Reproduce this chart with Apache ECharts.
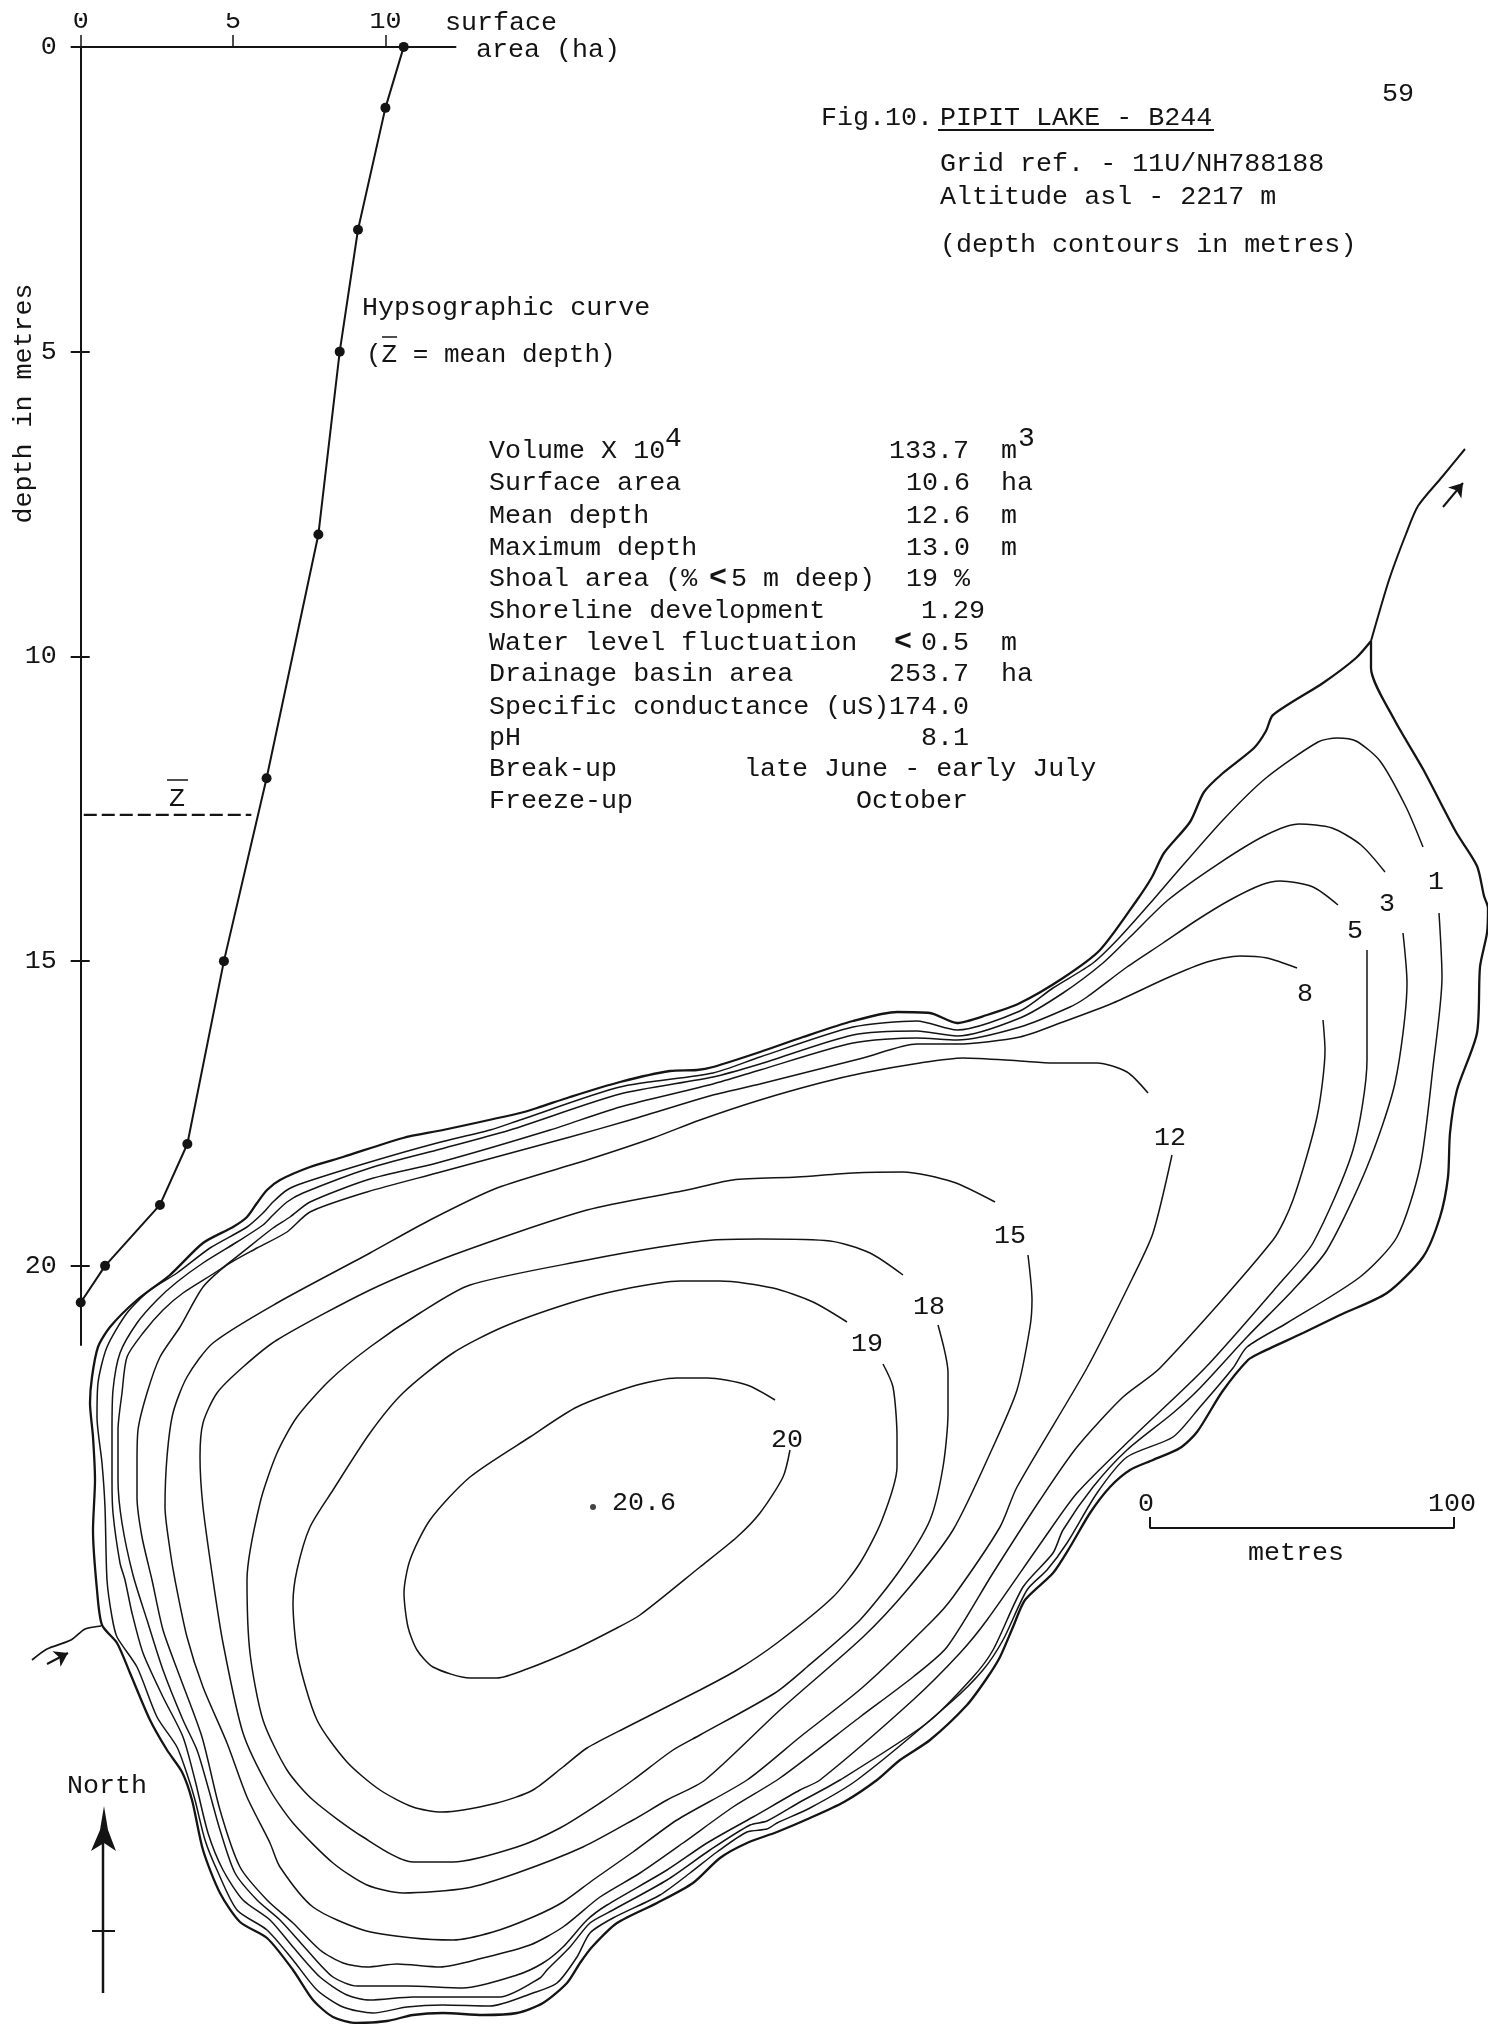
<!DOCTYPE html>
<html><head><meta charset="utf-8">
<style>html,body{margin:0;padding:0;background:#fff}#c{width:1488px;height:2024px}</style>
<script src="https://cdn.jsdelivr.net/npm/echarts@6/dist/echarts.min.js"></script>
</head><body><div id="c"></div>
<script>
// Hypsographic curve (surface area in ha against depth in m)
const areaTicks = [0, 5, 10];
const depthTicks = [0, 5, 10, 15, 20];
const hypsoArea = [10.6, 10.0, 9.1, 8.5, 7.8, 6.1, 4.7, 3.5, 2.6, 0.8, 0];
const hypsoDepth = [0, 1, 3, 5, 8, 12, 15, 18, 19, 20, 20.6];
const meanDepth = 12.6;

// Contours (sheet units, y downward)
const shoreline = [[1371,641],[1356,658],[1323,683],[1273,715],[1266,731],[1254,748],[1223,773],[1204,792],[1190,822],[1164,853],[1152,877],[1137,900],[1100,950],[1063,978],[1020,1003],[987,1015],[957,1023],[930,1013],[897,1012],[853,1021],[803,1037],[760,1052],[713,1067],[697,1070],[670,1071],[620,1082],[570,1097],[537,1108],[520,1113],[443,1130],[403,1138],[343,1157],[310,1167],[280,1180],[267,1190],[257,1203],[247,1217],[233,1227],[203,1243],[170,1275],[137,1300],[110,1327],[98,1347],[92,1377],[90,1403],[93,1437],[95,1480],[93,1530],[97,1590],[102,1625],[117,1643],[130,1673],[150,1720],[167,1750],[182,1772],[192,1800],[203,1850],[220,1893],[240,1922],[267,1938],[293,1970],[313,2000],[333,2017],[357,2023],[387,2021],[413,2015],[443,2013],[483,2015],[517,2013],[543,2003],[567,1983],[580,1963],[592,1947],[617,1923],[657,1903],[693,1883],[720,1858],[747,1843],[777,1832],[810,1818],[844,1802],[877,1780],[900,1760],[930,1740],[967,1705],[987,1678],[1000,1657],[1013,1627],[1025,1600],[1053,1573],[1070,1547],[1090,1513],[1110,1487],[1130,1470],[1153,1460],[1180,1448],[1197,1432],[1222,1392],[1248,1360],[1260,1353],[1303,1333],[1340,1315],[1387,1293],[1423,1257],[1440,1217],[1448,1177],[1450,1133],[1457,1090],[1477,1033],[1480,967],[1487,933],[1488,908],[1484,896],[1477,866],[1456,832],[1423,769],[1394,719],[1371,668],[1371,641]];
const contour1 = [[1423,847],[1406,807],[1380,761],[1356,741],[1337,738],[1318,742],[1266,778],[1223,820],[1171,879],[1153,900],[1120,937],[1093,963],[1053,988],[1020,1011],[957,1030],[917,1021],[853,1027],[760,1057],[713,1073],[620,1087],[520,1120],[490,1130],[437,1143],[370,1162],[303,1183],[287,1190],[273,1202],[263,1213],[247,1227],[210,1248],[177,1273],[150,1290],[127,1313],[107,1347],[98,1383],[97,1417],[102,1463],[105,1507],[107,1580],[112,1617],[117,1637],[137,1667],[157,1717],[177,1747],[188,1777],[195,1800],[205,1840],[217,1870],[237,1910],[267,1930],[293,1960],[317,1990],[343,2007],[373,2013],[407,2007],[443,2005],[490,2006],[533,1993],[557,1983],[577,1957],[590,1933],[613,1918],[660,1895],[690,1873],[717,1852],[747,1832],[767,1829],[777,1823],[810,1808],[857,1780],[950,1703],[983,1670],[1003,1640],[1027,1590],[1047,1570],[1067,1543],[1097,1493],[1127,1457],[1173,1437],[1200,1407],[1233,1368],[1247,1347],[1287,1323],[1360,1277],[1397,1237],[1420,1167],[1433,1067],[1442,977],[1439,913]];
const contour3 = [[1385,872],[1361,845],[1332,828],[1299,824],[1266,835],[1218,864],[1168,900],[1130,937],[1103,963],[1063,993],[1020,1018],[957,1036],[917,1031],[853,1035],[760,1064],[713,1077],[620,1094],[510,1130],[437,1150],[370,1168],[303,1193],[287,1202],[273,1215],[263,1225],[237,1242],[203,1263],[177,1282],[157,1300],[137,1323],[120,1353],[113,1390],[112,1430],[112,1480],[113,1513],[120,1563],[125,1580],[132,1613],[143,1653],[163,1697],[183,1737],[195,1780],[208,1833],[223,1870],[243,1900],[270,1920],[293,1947],[320,1977],[347,1995],[370,2000],[413,1997],[443,1997],[500,1997],[540,1978],[547,1970],[570,1947],[590,1923],[613,1910],[667,1880],[710,1850],[750,1825],[767,1821],[800,1802],[840,1780],[927,1723],[973,1677],[993,1650],[1023,1587],[1053,1553],[1063,1530],[1093,1487],[1127,1450],[1173,1413],[1200,1388],[1247,1337],[1293,1290],[1327,1250],[1367,1167],[1395,1083],[1407,983],[1403,933]];
const contour5 = [[1338,905],[1313,887],[1280,881],[1261,885],[1230,900],[1197,920],[1163,943],[1127,967],[1087,997],[1070,1007],[1020,1027],[957,1040],[917,1038],[853,1043],[760,1070],[713,1084],[620,1107],[550,1130],[437,1163],[370,1179],[310,1202],[290,1217],[273,1228],[222,1268],[183,1293],[163,1310],[143,1333],[127,1357],[122,1393],[118,1430],[118,1480],[122,1523],[133,1575],[147,1620],[163,1670],[183,1720],[197,1750],[208,1787],[220,1830],[235,1873],[257,1900],[280,1920],[307,1950],[333,1977],[357,1986],[407,1986],[463,1988],[517,1975],[543,1963],[563,1947],[587,1920],[607,1905],[667,1870],[707,1843],[753,1817],[800,1790],[820,1780],[913,1700],[960,1653],[987,1620],[1043,1540],[1077,1493],[1133,1437],[1205,1368],[1280,1283],[1313,1243],[1353,1150],[1367,1060],[1367,950]];
const contour8 = [[1297,968],[1267,958],[1240,956],[1207,962],[1167,978],[1113,1003],[1063,1022],[1020,1037],[957,1044],[917,1044],[863,1058],[760,1084],[713,1095],[630,1120],[570,1137],[437,1173],[367,1192],[310,1212],[287,1232],[257,1248],[227,1265],[203,1287],[180,1327],[160,1357],[147,1393],[138,1430],[137,1463],[137,1497],[142,1537],[152,1580],[163,1630],[180,1677],[202,1737],[220,1810],[240,1867],[267,1900],[293,1923],[320,1950],[343,1963],[367,1967],[397,1964],[440,1967],[483,1958],[530,1945],[563,1927],[600,1897],[640,1873],[683,1843],[733,1807],[780,1778],[860,1717],[913,1677],[947,1647],[993,1573],[1040,1500],[1077,1447],[1123,1397],[1160,1368],[1273,1240],[1293,1200],[1317,1117],[1325,1050],[1323,1020]];
const contour12 = [[1148,1093],[1127,1072],[1097,1063],[1053,1063],[1020,1061],[963,1058],[920,1063],[863,1073],[820,1083],[760,1100],[700,1120],[653,1138],[587,1160],[497,1188],[430,1220],[370,1253],[277,1303],[213,1343],[187,1377],[173,1413],[167,1457],[165,1507],[170,1550],[175,1580],[187,1637],[203,1687],[227,1743],[247,1797],[270,1843],[280,1867],[313,1907],[363,1930],[413,1938],[453,1940],[493,1932],[533,1917],[563,1902],[593,1880],[633,1852],[677,1820],[747,1780],[800,1737],[863,1687],[933,1620],[953,1597],[1000,1527],[1017,1487],[1087,1368],[1133,1277],[1153,1233],[1172,1155]];
const contour15 = [[995,1202],[953,1182],[903,1172],[853,1173],[797,1177],[733,1180],[687,1190],[587,1210],[453,1255],[370,1290],[277,1340],[243,1367],[217,1393],[203,1423],[200,1457],[203,1507],[213,1580],[223,1643],[243,1733],[270,1790],[293,1823],[333,1863],[367,1885],[403,1893],[467,1888],[517,1873],[583,1847],[633,1820],[667,1800],[705,1780],[780,1710],[863,1637],[907,1590],[953,1530],[993,1447],[1017,1390],[1030,1327],[1032,1300],[1028,1255]];
const contour18 = [[903,1275],[870,1253],[830,1241],[760,1239],[713,1240],[660,1247],[587,1260],[470,1285],[420,1313],[370,1347],[330,1380],[297,1417],[277,1453],[260,1503],[247,1580],[250,1653],[263,1720],[287,1770],[313,1800],[363,1837],[413,1862],[453,1862],[517,1847],[560,1828],[600,1803],[633,1780],[673,1750],[700,1735],[775,1693],[807,1667],[860,1620],[900,1570],[930,1520],[943,1467],[948,1413],[948,1373],[938,1325]];
const contour19 = [[847,1322],[813,1302],[773,1288],[720,1281],[680,1281],[620,1290],[570,1303],[503,1327],[453,1353],[403,1393],[370,1433],[333,1490],[310,1527],[297,1570],[293,1603],[298,1657],[317,1720],[347,1762],[380,1790],[413,1807],[442,1812],[497,1803],[533,1790],[563,1767],[587,1748],[627,1727],[700,1690],[737,1670],[777,1643],[833,1597],[860,1563],[882,1520],[897,1467],[897,1437],[893,1387],[883,1364]];
const contour20 = [[775,1400],[747,1385],[707,1378],[677,1378],[637,1385],[577,1407],[530,1437],[470,1477],[430,1520],[410,1560],[404,1593],[408,1627],[417,1650],[433,1667],[470,1678],[497,1678],[527,1669],[573,1650],[613,1630],[640,1615],[700,1567],[737,1537],[760,1513],[783,1477],[790,1450]];
const outletStream = [[1465,449],[1442,477],[1418,506],[1406,534],[1389,580],[1371,641]];
const inletStream = [[101,1626],[85,1629],[71,1640],[47,1649],[32,1660]];
const deepestPoint = [[593,1507]];
const scaleBar = [[1150,1517],[1150,1528],[1454,1528],[1454,1517]];
const contours = [contour1, contour3, contour5, contour8, contour12, contour15, contour18, contour19, contour20];
const contourNames = ['1','3','5','8','12','15','18','19','20'];

const FONT = '"Liberation Mono", monospace';
const INK = '#141414';
function label(text, x, y, opt) {
  opt = opt || {};
  const size = opt.size || 26.7;
  return {
    type: 'text', x: x, y: y + 1.5, rotation: opt.rot || 0, silent: true, z: 50,
    style: { text: text, font: (opt.bold ? 'bold ' : '') + size + 'px ' + FONT, fill: INK,
      textAlign: opt.align || 'left', align: opt.align || 'left',
      textVerticalAlign: 'middle', verticalAlign: 'middle' }
  };
}
const rowY = [449, 481, 514, 546, 577, 609, 641, 672, 705, 736, 767, 799];
const graphics = [
  {type:'rect', shape:{x:0,y:0,width:440,height:13}, style:{fill:'#fff'}, z:60, silent:true},
  label('surface', 445, 21), label('area (ha)', 476, 48),
  label('depth in metres', 24, 402, {rot: Math.PI/2, align:'center'}),
  label('59', 1382, 92),
  label('Fig.10.', 821, 116), label('PIPIT LAKE - B244', 940, 116),
  {type:'line', shape:{x1:938,y1:130,x2:1214,y2:130}, style:{stroke:INK,lineWidth:2}, silent:true},
  label('Grid ref. - 11U/NH788188', 940, 162),
  label('Altitude asl - 2217 m', 940, 195),
  label('(depth contours in metres)', 940, 243),
  label('Hypsographic curve', 362, 306),
  label('(Z = mean depth)', 366, 354, {size:26}),
  {type:'line', shape:{x1:382,y1:337,x2:397,y2:337}, style:{stroke:INK,lineWidth:1.5}, silent:true},
  label('Z', 177, 797, {align:'center'}),
  {type:'line', shape:{x1:167,y1:780,x2:188,y2:780}, style:{stroke:INK,lineWidth:1.5}, silent:true},
  label('Volume X 10', 489, rowY[0]), label('4', 665, 437, {size:28}),
  label('Surface area', 489, rowY[1]), label('Mean depth', 489, rowY[2]),
  label('Maximum depth', 489, rowY[3]),
  label('Shoal area (%', 489, rowY[4]), label('<', 718, rowY[4], {align:'center', bold:true, size:30}), label('5 m deep)', 731, rowY[4]),
  label('Shoreline development', 489, rowY[5]), label('Water level fluctuation', 489, rowY[6]),
  label('Drainage basin area', 489, rowY[7]), label('Specific conductance (uS)', 489, rowY[8]),
  label('pH', 489, rowY[9]), label('Break-up', 489, rowY[10]), label('Freeze-up', 489, rowY[11]),
  label('133.7', 889, rowY[0]), label('m', 1001, rowY[0]), label('3', 1018, 437, {size:28}),
  label('10.6', 906, rowY[1]), label('ha', 1001, rowY[1]),
  label('12.6', 906, rowY[2]), label('m', 1001, rowY[2]),
  label('13.0', 906, rowY[3]), label('m', 1001, rowY[3]),
  label('19 %', 906, rowY[4]), label('1.29', 921, rowY[5]),
  label('<', 903, rowY[6], {align:'center', bold:true, size:30}), label('0.5', 921, rowY[6]), label('m', 1001, rowY[6]),
  label('253.7', 889, rowY[7]), label('ha', 1001, rowY[7]),
  label('174.0', 889, rowY[8]), label('8.1', 921, rowY[9]),
  label('late June - early July', 744, rowY[10]), label('October', 856, rowY[11]),
  label(contourNames[0], 1436, 880, {align:'center'}), label(contourNames[1], 1387, 902, {align:'center'}),
  label(contourNames[2], 1355, 929, {align:'center'}), label(contourNames[3], 1305, 992, {align:'center'}),
  label(contourNames[4], 1170, 1136, {align:'center'}), label(contourNames[5], 1010, 1234, {align:'center'}),
  label(contourNames[6], 929, 1305, {align:'center'}), label(contourNames[7], 867, 1342, {align:'center'}),
  label(contourNames[8], 787, 1438, {align:'center'}),
  label('20.6', 612, 1501),
  label('0', 1146, 1502, {align:'center'}), label('100', 1452, 1502, {align:'center'}),
  label('metres', 1296, 1551, {align:'center'}), label('North', 107, 1784, {align:'center'}),
  {type:'polygon', shape:{points:[[104,1806],[108,1830],[116,1851],[104,1843],[91,1851],[100,1830]]}, style:{fill:INK}, silent:true},
  {type:'line', shape:{x1:103,y1:1840,x2:103,y2:1993}, style:{stroke:INK,lineWidth:2.5}, silent:true},
  {type:'line', shape:{x1:92,y1:1931,x2:115,y2:1931}, style:{stroke:INK,lineWidth:2}, silent:true}
];

const mapLine = (name, data, width) => ({
  name: name, type: 'line', xAxisIndex: 1, yAxisIndex: 1, data: data, smooth: 0.25,
  showSymbol: false, symbol: 'none', silent: true, lineStyle: { color: INK, width: width }
});
const arrowMark = (a, b) => ({
  silent: true, symbol: ['none','arrow'], symbolSize: 13, label: {show:false},
  lineStyle: { color: INK, width: 2, type: 'solid' },
  data: [[{coord:a},{coord:b}]]
});

const inletArrow = [[47,1664],[68,1653]];
const outletArrow = [[1443,507],[1463,483]];

const series = [
  mapLine('shoreline', shoreline, 2.3),
  ...contours.map((c,i) => mapLine('contour ' + contourNames[i], c, 1.5)),
  Object.assign(mapLine('outlet', outletStream, 2), { markLine: arrowMark(outletArrow[0], outletArrow[1]) }),
  Object.assign(mapLine('inlet', inletStream, 1.7), { markLine: arrowMark(inletArrow[0], inletArrow[1]) }),
  { name:'scale', type:'line', xAxisIndex:1, yAxisIndex:1, data:scaleBar, symbol:'none', silent:true, lineStyle:{color:INK,width:2} },
  { name:'deepest', type:'scatter', xAxisIndex:1, yAxisIndex:1, data:deepestPoint, symbolSize:6, silent:true, itemStyle:{color:INK} },
  { name:'hypsographic curve', type:'line', xAxisIndex:0, yAxisIndex:0,
    data: hypsoArea.map((a,i)=>[a,hypsoDepth[i]]), symbol:'circle', symbolSize:10, silent:true,
    lineStyle:{color:INK,width:2}, itemStyle:{color:INK} },
  { name:'mean depth', type:'line', xAxisIndex:0, yAxisIndex:0,
    data:[[0.1,meanDepth],[5.6,meanDepth]], symbol:'none', silent:true,
    lineStyle:{color:INK,width:2.2,type:[13,5]} }
];

const hGrid = { left: 80.7, top: 46.9, width: 374.8, height: 1298.2 };
const option = {
  animation: false, backgroundColor: '#fff', tooltip: {show:false},
  grid: [ Object.assign({}, hGrid), {left:0, top:0, width:1488, height:2024}, Object.assign({}, hGrid) ],
  xAxis: [
    { type:'value', gridIndex:0, position:'top', min:0, max:12.3, splitLine:{show:false},
      axisLine:{onZero:false, lineStyle:{color:INK,width:2}},
      axisTick:{show:true, customValues:areaTicks, length:12, lineStyle:{color:INK,width:1.5}},
      axisLabel:{customValues:areaTicks, margin:12, fontFamily:FONT, fontSize:26.7, color:INK, formatter:v=>String(v)} },
    { type:'value', gridIndex:1, min:0, max:1488, show:false },
    { type:'value', gridIndex:2, min:0, max:12.3, show:false }
  ],
  yAxis: [
    { type:'value', gridIndex:0, inverse:true, min:0, max:21.3, splitLine:{show:false},
      axisLine:{onZero:false, lineStyle:{color:INK,width:2}},
      axisTick:{show:true, customValues:depthTicks, length:10, lineStyle:{color:INK,width:2}},
      axisLabel:{customValues:depthTicks, margin:24, fontFamily:FONT, fontSize:26.7, color:INK, formatter:v=>String(v)} },
    { type:'value', gridIndex:1, inverse:true, min:0, max:2024, show:false },
    { type:'value', gridIndex:2, inverse:true, min:0, max:21.3, splitLine:{show:false},
      axisLine:{show:false}, axisLabel:{show:false},
      axisTick:{show:true, inside:true, customValues:depthTicks, length:9, lineStyle:{color:INK,width:2}} }
  ],
  graphic: { elements: graphics },
  series: series
};
echarts.init(document.getElementById('c'), null, {renderer:'canvas'}).setOption(option);
</script></body></html>
